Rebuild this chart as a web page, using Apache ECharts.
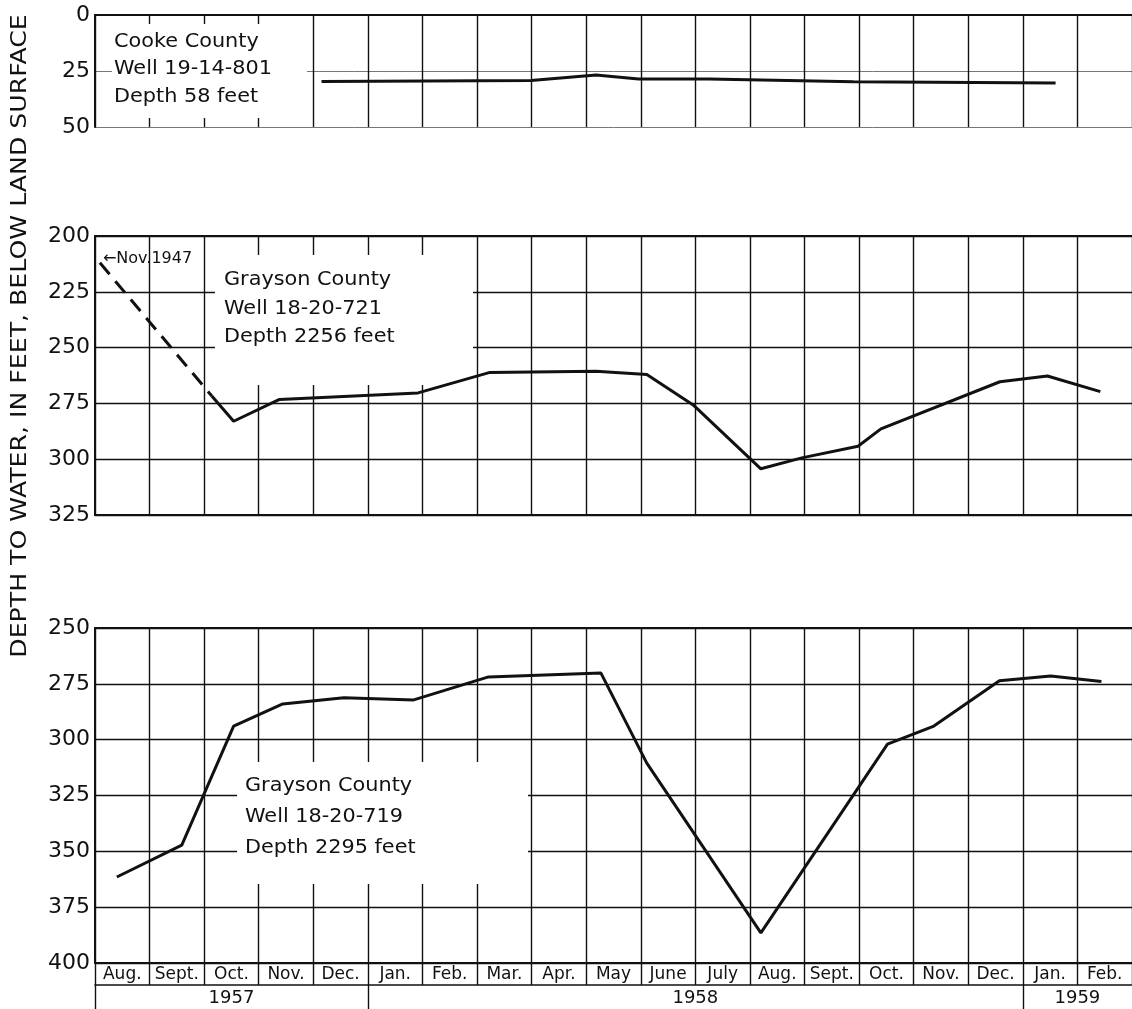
<!DOCTYPE html>
<html>
<head>
<meta charset="utf-8">
<title>Hydrographs of wells in Cooke and Grayson Counties</title>
<script src="https://cdn.jsdelivr.net/npm/echarts@6/dist/echarts.min.js"></script>
<style>
  html, body { margin: 0; padding: 0; background: #fff; }
  #chart { width: 1132px; height: 1009px; }
</style>
</head>
<body>
<div id="chart"></div>
<script>
// Month columns, Aug. 1957 through Feb. 1959 (x = months since 1 Aug 1957)
const MONTHS = ['Aug.', 'Sept.', 'Oct.', 'Nov.', 'Dec.', 'Jan.', 'Feb.', 'Mar.', 'Apr.', 'May',
                'June', 'July', 'Aug.', 'Sept.', 'Oct.', 'Nov.', 'Dec.', 'Jan.', 'Feb.'];
const YEARS = ['1957', '1958', '1959'];
const YEAR_START = [0, 5, 17];

// Depth to water, feet below land surface: [months since 1 Aug 1957, depth]
const COOKE_19_14_801 = [[4.15, 29.7], [7.99, 29.2], [9.18, 26.8], [9.96, 28.6], [11.25, 28.6],
                         [13.9, 29.8], [17.6, 30.4]];
const GRAYSON_18_20_721_NOV1947 = [[0.09, 212], [2.14, 271.7]];
const GRAYSON_18_20_721 = [[2.14, 271.7], [2.54, 283], [3.38, 273.2], [5.92, 270.3], [7.22, 261.2],
                           [9.18, 260.6], [10.11, 262], [10.96, 275.7], [12.2, 304.3], [12.95, 299.4],
                           [13.98, 294.2], [14.4, 286.4], [16.58, 265.3], [17.45, 262.7], [18.42, 269.7]];
const GRAYSON_18_20_719 = [[0.4, 361.5], [1.59, 347.2], [2.54, 293.9], [3.44, 284], [4.56, 281.2],
                           [5.84, 282.2], [7.21, 271.9], [9.27, 270.2], [10.11, 310.5], [12.2, 386.5],
                           [14.52, 302], [15.37, 293.9], [16.57, 273.6], [17.51, 271.5], [18.44, 274]];

// Depth-axis tick ranges for each panel
const Y_RANGES = [[0, 50], [200, 325], [250, 400]];
const Y_STEP = 25;

const INK = '#111';
const FONT = 'DejaVu Sans';
const LEFT = 95;
const PLOT_W = 55.2 * MONTHS.length;
const PANELS = [{ top: 15, height: 112 }, { top: 236, height: 279 }, { top: 628, height: 335 }];

const chart = echarts.init(document.getElementById('chart'), null, { renderer: 'canvas' });

const grids = PANELS.map(p => ({ left: LEFT, top: p.top, width: PLOT_W, height: p.height, containLabel: false }));

function monthAxis(gridIndex) {
  return {
    type: 'value', gridIndex, position: 'bottom', min: 0, max: MONTHS.length, interval: 1,
    axisLine: { show: true, lineStyle: { color: INK, width: 2 } },
    axisTick: { show: false }, axisLabel: { show: false },
    splitLine: { show: true, lineStyle: { color: INK, width: 1.4 } }
  };
}
function topFrame(gridIndex) {
  return {
    type: 'value', gridIndex, position: 'top', min: 0, max: MONTHS.length,
    axisLine: { show: true, lineStyle: { color: INK, width: 2 } },
    axisTick: { show: false }, axisLabel: { show: false }, splitLine: { show: false }
  };
}

const xAxes = [monthAxis(0), topFrame(0), monthAxis(1), topFrame(1), monthAxis(2), topFrame(2)];
// month names row beneath the bottom panel
Object.assign(xAxes[4], {
  axisTick: { show: true, customValues: MONTHS.map((_, i) => i).concat([MONTHS.length]),
              length: 22, lineStyle: { color: INK, width: 1.4 } },
  axisLabel: { show: true, customValues: MONTHS.map((_, i) => i + 0.5), margin: 3,
               formatter: v => MONTHS[Math.floor(v)], color: INK, fontFamily: FONT, fontSize: 17 }
});
// years row
xAxes.push({
  type: 'value', gridIndex: 2, position: 'bottom', offset: 22, min: 0, max: MONTHS.length,
  axisLine: { show: true, lineStyle: { color: INK, width: 1.6 } },
  axisTick: { show: true, customValues: YEAR_START, length: 30, lineStyle: { color: INK, width: 1.4 } },
  axisLabel: {
    show: true, margin: 4, color: INK, fontFamily: FONT, fontSize: 18,
    customValues: YEAR_START.map((s, i) => (s + (i + 1 < YEAR_START.length ? YEAR_START[i + 1] : MONTHS.length)) / 2),
    formatter: v => {
      for (let i = YEARS.length - 1; i >= 0; i--) if (v >= YEAR_START[i]) return YEARS[i];
      return '';
    }
  },
  splitLine: { show: false }
});

const yAxes = Y_RANGES.map((r, i) => ({
  type: 'value', gridIndex: i, inverse: true, min: r[0], max: r[1], interval: Y_STEP,
  axisLine: { show: true, lineStyle: { color: INK, width: 2 } },
  axisTick: { show: false },
  axisLabel: { color: INK, fontFamily: FONT, fontSize: 22, margin: 5 },
  splitLine: { show: true, lineStyle: { color: i === 0 ? '#777' : INK, width: i === 0 ? 1 : 1.4 } }
}));

const lineStyle = { color: INK, width: 3 };

const series = [
  { name: 'Cooke County 19-14-801', type: 'line', xAxisIndex: 0, yAxisIndex: 0, z: 10,
    data: COOKE_19_14_801, showSymbol: false, lineStyle },
  { name: 'Grayson County 18-20-721 (Nov. 1947)', type: 'line', xAxisIndex: 2, yAxisIndex: 1, z: 10,
    data: GRAYSON_18_20_721_NOV1947.map((p, i) => i === 0 ? {
      value: p,
      label: { show: true, position: 'right', distance: 3, offset: [0, -4], formatter: '\u2190Nov.1947',
               color: INK, fontFamily: FONT, fontSize: 16 }
    } : p),
    showSymbol: true, symbolSize: 0,
    lineStyle: { color: INK, width: 3, type: [15, 9] } },
  { name: 'Grayson County 18-20-721', type: 'line', xAxisIndex: 2, yAxisIndex: 1, z: 10,
    data: GRAYSON_18_20_721, showSymbol: false, lineStyle },
  { name: 'Grayson County 18-20-719', type: 'line', xAxisIndex: 4, yAxisIndex: 2, z: 10,
    data: GRAYSON_18_20_719, showSymbol: false, lineStyle }
];

// Well captions sit on white panels that interrupt the grid
function caption(x, y, w, h, tx, ty, lines, lh) {
  return [
    { type: 'rect', z: 5, shape: { x, y, width: w, height: h }, style: { fill: '#fff' } },
    { type: 'text', z: 6, x: tx, y: ty, scaleX: 1.04,
      style: { text: lines.join('\n'), fill: INK, font: '20px "' + FONT + '"', lineHeight: lh,
               textVerticalAlign: 'top' } }
  ];
}

const graphic = [].concat(
  caption(112, 24, 195, 94, 114, 28, ['Cooke County', 'Well 19-14-801', 'Depth 58 feet'], 27.5),
  caption(215, 255, 258, 130, 224, 266, ['Grayson County', 'Well 18-20-721', 'Depth 2256 feet'], 28.5),
  caption(237, 762, 291, 122, 245, 770, ['Grayson County', 'Well 18-20-719', 'Depth 2295 feet'], 31),
  [{ type: 'text', z: 6, x: 21, y: 336, rotation: Math.PI / 2, scaleX: 1.2,
     style: { text: 'DEPTH TO WATER, IN FEET, BELOW LAND SURFACE', fill: INK,
              font: '21px "' + FONT + '"', textAlign: 'center', textVerticalAlign: 'middle' } }]
);

chart.setOption({
  animation: false,
  backgroundColor: '#fff',
  textStyle: { fontFamily: FONT },
  grid: grids,
  xAxis: xAxes,
  yAxis: yAxes,
  series,
  graphic
});
</script>
</body>
</html>
